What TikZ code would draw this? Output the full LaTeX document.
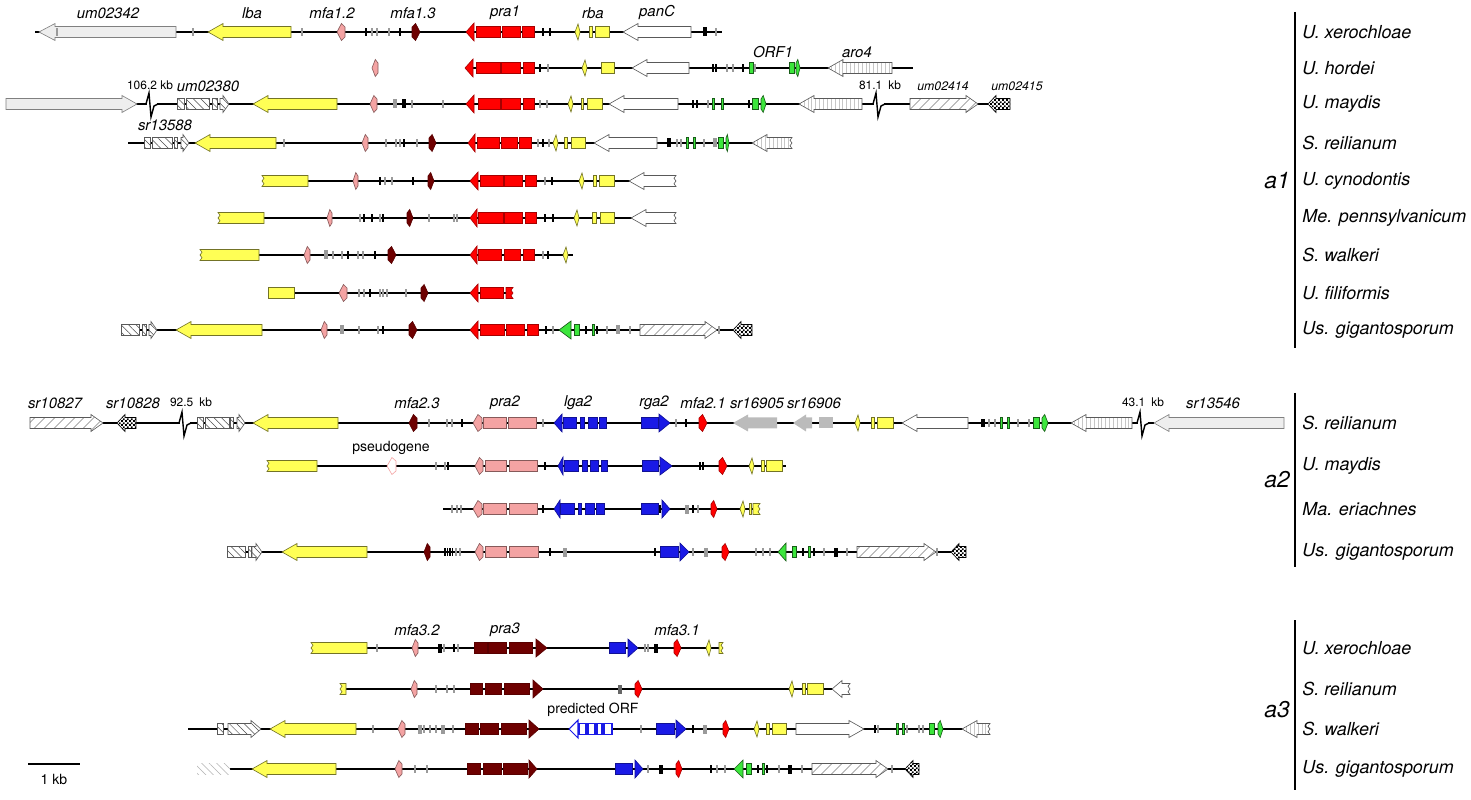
\documentclass[tikz,border=0pt]{standalone}
\usepackage{fontspec}
\setmainfont{TeX Gyre Heros}
\usepackage{xcolor}
\usepackage{tikz}
\usetikzlibrary{patterns,patterns.meta}

\definecolor{praRed}{HTML}{FF0000}
\definecolor{mfaDark}{HTML}{6E0000}
\definecolor{mfaPink}{HTML}{F4A3A3}
\definecolor{lbaYel}{HTML}{FFFF55}
\definecolor{rgaBlue}{HTML}{1A1AE6}
\definecolor{orfGreen}{HTML}{3CE63C}
\definecolor{paleGray}{HTML}{EEEEEE}
\definecolor{midGray}{HTML}{BBBBBB}
\definecolor{tickGray}{HTML}{9A9A9A}

% small checker for um02415-like genes
\pgfdeclarepatternformonly{finecheck}{\pgfpointorigin}{\pgfqpoint{2.4pt}{2.4pt}}{\pgfqpoint{2.4pt}{2.4pt}}{%
  \pgfpathrectangle{\pgfpointorigin}{\pgfqpoint{1.2pt}{1.2pt}}%
  \pgfpathrectangle{\pgfqpoint{1.2pt}{1.2pt}}{\pgfqpoint{1.2pt}{1.2pt}}%
  \pgfusepath{fill}}

\tikzset{
  track/.style={line width=0.8pt,black},
  gene/.style={line width=0.35pt},
  redg/.style={gene,fill=praRed,draw=praRed!65!black},
  darkg/.style={gene,fill=mfaDark,draw=mfaDark!80!black},
  pinkg/.style={gene,fill=mfaPink,draw=mfaPink!55!black},
  yelg/.style={gene,fill=lbaYel,draw=lbaYel!45!black},
  blueg/.style={gene,fill=rgaBlue,draw=rgaBlue!65!black},
  greeng/.style={gene,fill=orfGreen,draw=orfGreen!40!black},
  paleg/.style={gene,fill=paleGray,draw=gray},
  whiteg/.style={gene,fill=white,draw=gray!70!black},
  grayg/.style={fill=midGray,draw=none},
  pseudog/.style={gene,fill=white,draw=mfaPink},
  openg/.style={gene,fill=white,draw=rgaBlue,line width=0.6pt},
  hatchf/.style={gene,draw=gray!70!black,preaction={fill=white},
    pattern={Lines[angle=45,distance=4pt,line width=0.3pt]},pattern color=gray!60!black},
  hatchb/.style={gene,draw=gray!70!black,preaction={fill=white},
    pattern={Lines[angle=-45,distance=3pt,line width=0.3pt]},pattern color=gray!60!black},
  hatchfade/.style={preaction={fill=white},
    pattern={Lines[angle=-45,distance=3pt,line width=0.3pt]},pattern color=gray!60},
  stripeg/.style={gene,draw=gray!70!black,preaction={fill=white},
    pattern={Lines[angle=90,distance=2.2pt,line width=0.25pt]},pattern color=gray!45},
  checkg/.style={gene,draw=black,preaction={fill=white},pattern=finecheck,pattern color=black},
  glab/.style={font=\fontsize{8.5}{9}\selectfont\itshape,inner sep=1pt},
  smlab/.style={font=\fontsize{7}{8}\selectfont\itshape,inner sep=1pt},
  kblab/.style={font=\fontsize{6.8}{7}\selectfont,inner sep=1pt},
  nlab/.style={font=\fontsize{8}{9}\selectfont,inner sep=1pt},
  sp/.style={font=\fontsize{10.2}{12}\selectfont\itshape,anchor=west,inner sep=0pt},
  grp/.style={font=\fontsize{13}{14}\selectfont\itshape,inner sep=0pt},
  grpbar/.style={line width=1.2pt}
}

% gene shapes, all in pixel units
\newcommand{\geneL}[5][whiteg]{\filldraw[#1] (#2,#4) -- ({#2+#5},{#4-8.5}) -- ({#2+#5},{#4-5.5}) -- (#3,{#4-5.5}) -- (#3,{#4+5.5}) -- ({#2+#5},{#4+5.5}) -- ({#2+#5},{#4+8.5}) -- cycle;}
\newcommand{\geneR}[5][whiteg]{\filldraw[#1] (#3,#4) -- ({#3-#5},{#4-8.5}) -- ({#3-#5},{#4-5.5}) -- (#2,{#4-5.5}) -- (#2,{#4+5.5}) -- ({#3-#5},{#4+5.5}) -- ({#3-#5},{#4+8.5}) -- cycle;}
\newcommand{\geneLj}[5][whiteg]{\filldraw[#1] (#2,#4) -- ({#2+#5},{#4-8.5}) -- ({#2+#5},{#4-5.5}) -- (#3,{#4-5.5}) -- ({#3-2},{#4-2.75}) -- (#3,#4) -- ({#3-2},{#4+2.75}) -- (#3,{#4+5.5}) -- ({#2+#5},{#4+5.5}) -- ({#2+#5},{#4+8.5}) -- cycle;}
\newcommand{\gbox}[4][yelg]{\filldraw[#1] (#2,{#4-5.5}) rectangle (#3,{#4+5.5});}
\newcommand{\jboxL}[4][yelg]{\filldraw[#1] (#3,{#4-5.5}) -- (#2,{#4-5.5}) -- ({#2+2},{#4-2.75}) -- (#2,#4) -- ({#2+2},{#4+2.75}) -- (#2,{#4+5.5}) -- (#3,{#4+5.5}) -- cycle;}
\newcommand{\jboxR}[4][yelg]{\filldraw[#1] (#2,{#4-5.5}) -- (#3,{#4-5.5}) -- ({#3-2},{#4-2.75}) -- (#3,#4) -- ({#3-2},{#4+2.75}) -- (#3,{#4+5.5}) -- (#2,{#4+5.5}) -- cycle;}
\newcommand{\headL}[4][redg]{\filldraw[#1] (#2,#4) -- (#3,{#4-9}) -- (#3,{#4+9}) -- cycle;}
\newcommand{\headR}[4][blueg]{\filldraw[#1] (#3,#4) -- (#2,{#4-9}) -- (#2,{#4+9}) -- cycle;}
\newcommand{\kiteL}[4][pinkg]{\filldraw[#1] (#2,#4) -- ({#2+0.55*(#3-#2)},{#4-8.5}) -- (#3,{#4-5}) -- (#3,{#4+5}) -- ({#2+0.55*(#3-#2)},{#4+8.5}) -- cycle;}
\newcommand{\kiteR}[4][darkg]{\filldraw[#1] (#3,#4) -- ({#3-0.55*(#3-#2)},{#4-8.5}) -- (#2,{#4-5}) -- (#2,{#4+5}) -- ({#3-0.55*(#3-#2)},{#4+8.5}) -- cycle;}
\newcommand{\diamY}[2]{\filldraw[yelg] ({#1-3},#2) -- (#1,{#2-8}) -- ({#1+2},#2) -- (#1,{#2+8}) -- cycle;}
\newcommand{\tks}[3][tickGray]{\foreach \x in {#3}{\fill[#1] ({\x-0.9},{#2-4}) rectangle ({\x+0.9},{#2+4});}}
\newcommand{\tkw}[3][tickGray]{\foreach \x in {#3}{\fill[#1] ({\x-1.8},{#2-4.5}) rectangle ({\x+1.8},{#2+4.5});}}
\newcommand{\gbreak}[2]{\fill[white] ({#1-3},{#2-2}) rectangle ({#1+7},{#2+2});
  \draw[track,line join=miter] ({#1-4},#2) -- ({#1-1},{#2-11}) -- ({#1+1},{#2+13}) -- ({#1+4},{#2+2}) -- ({#1+8},#2);}

\begin{document}
\begin{tikzpicture}[x=0.02cm,y=-0.02cm]
  \useasboundingbox (0,0) rectangle (1471,800);

  %%%%%%%%%% a1 %%%%%%%%%%
  % U. xerochloae
  \draw[track] (35,32) -- (722,32);
  \geneL[paleg]{39}{176}{32}{16}
  \tks{32}{57,193,302,372,377,389,716}
  \tks[black]{32}{366,400,543,550}
  \geneL[yelg]{208}{291}{32}{15}
  \kiteL{337}{345}{32}
  \kiteR{412}{420}{32}
  \headL{466}{474}{32}
  \gbox[redg]{476}{500}{32} \gbox[redg]{502}{520}{32} \gbox[redg]{522}{534}{32}
  \diamY{578}{32}
  \gbox{589}{592}{32} \gbox{595}{609}{32}
  \geneL{623}{691}{32}{15}
  \tkw[black]{32}{705}
  \node[glab] (lUm02342) at (108,13) {um02342};
  \node[glab] (lLba) at (252,13) {lba};
  \node[glab] (lMfa12) at (332,13) {mfa1.2};
  \node[glab] (lMfa13) at (413,13) {mfa1.3};
  \node[glab] (lPra1) at (505,13) {pra1};
  \node[glab] (lRba) at (593,13) {rba};
  \node[glab] (lPanC) at (657,13) {panC};

  % U. hordei
  \kiteL{372}{378}{68}
  \draw[track] (466,68) -- (913,68);
  \headL{465}{473}{68}
  \gbox[redg]{476}{500}{68} \gbox[redg]{501}{520}{68} \gbox[redg]{523}{534}{68}
  \tks[black]{68}{540,713,716,743}
  \tks{68}{548,727,733,755}
  \diamY{585}{68}
  \gbox{601}{614}{68}
  \geneL{632}{689}{68}{15}
  \gbox[greeng]{749}{753}{68} \gbox[greeng]{789}{794}{68}
  \kiteR[greeng]{796}{800}{68}
  \geneL[stripeg]{828}{892}{68}{15}
  \node[glab] (lOrf1) at (773,52) {ORF1};
  \node[glab] (lAro4) at (857,52) {aro4};

  % U. maydis
  \draw[track] (130,104) -- (988,104);
  \geneR[paleg]{6}{137}{104}{15}
  \gbreak{150}{104}
  \gbox[hatchb]{177}{184}{104} \gbox[hatchb]{186}{209}{104} \gbox[hatchb]{212}{217}{104}
  \geneR[hatchb]{220}{229}{104}{6}
  \geneL[yelg]{253}{337}{104}{15}
  \kiteL{370}{377}{104}
  \tkw{104}{395} \tkw[black]{104}{404}
  \tks{104}{412,443,540,547,708}
  \headL{466}{474}{104}
  \gbox[redg]{478}{500}{104} \gbox[redg]{501}{520}{104} \gbox[redg]{523}{534}{104}
  \diamY{571}{104}
  \gbox{581}{583}{104} \gbox{587}{602}{104}
  \geneL{609}{678}{104}{15}
  \tks[black]{104}{693,697,749}
  \gbox[greeng]{712}{714}{104} \gbox[greeng]{721}{723}{104}
  \gbox[greeng]{752}{758}{104}
  \kiteR[greeng]{761}{766}{104}
  \geneL[stripeg]{799}{862}{104}{15}
  \gbreak{877}{104}
  \geneR[hatchf]{910}{978}{104}{12}
  \geneL[checkg]{988}{1010}{104}{8}
  \node[kblab] (lKb1062) at (150,85) {106.2 kb};
  \node[glab] (lUm02380) at (208,86) {um02380};
  \node[kblab] (lKb811) at (880,85) {81.1\enspace kb};
  \node[smlab] (lUm02414) at (943,86) {um02414};
  \node[smlab] (lUm02415) at (1017,86) {um02415};

  % S. reilianum
  \draw[track] (128,143) -- (792,143);
  \gbox[hatchb]{144}{150}{143} \gbox[hatchb]{152}{172}{143} \gbox[hatchb]{174}{177}{143}
  \geneR[hatchb]{181}{189}{143}{6}
  \geneL[yelg]{195}{276}{143}{15}
  \tks{143}{284,386,396,400,417,538,549,677,681,704}
  \tks[black]{143}{404,543}
  \kiteL{362}{368}{143}
  \kiteR{429}{436}{143}
  \headL{468}{475}{143}
  \gbox[redg]{477}{499}{143} \gbox[redg]{501}{517}{143} \gbox[redg]{519}{531}{143}
  \diamY{556}{143}
  \gbox{564}{567}{143} \gbox{571}{585}{143}
  \geneL{594}{657}{143}{15}
  \tkw[black]{143}{669} \tkw{143}{715}
  \gbox[greeng]{686}{688}{143} \gbox[greeng]{693}{695}{143}
  \gbox[greeng]{718}{723}{143}
  \kiteR[greeng]{726}{729}{143}
  \geneLj[stripeg]{752}{792}{143}{15}
  \node[glab] (lSr13588) at (165,125) {sr13588};

  % U. cynodontis
  \draw[track] (262,181) -- (676,181);
  \jboxL{262}{308}{181}
  \kiteL{353}{358}{181}
  \tks[black]{181}{380,413,552}
  \tks{181}{385,392,545}
  \kiteR{428}{434}{181}
  \headL{470}{478}{181}
  \gbox[redg]{480}{503}{181} \gbox[redg]{504}{522}{181} \gbox[redg]{525}{536}{181}
  \diamY{582}{181}
  \gbox{593}{596}{181} \gbox{599}{614}{181}
  \geneLj{629}{676}{181}{15}

  % Me. pennsylvanicum
  \draw[track] (218,218) -- (676,218);
  \jboxL{218}{264}{218}
  \kiteL{327}{332}{218}
  \tks{218}{360,380,429,454,457}
  \tks[black]{218}{364,372,383,545,553}
  \kiteR{407}{413}{218}
  \headL{470}{477}{218}
  \gbox[redg]{478}{503}{218} \gbox[redg]{504}{522}{218} \gbox[redg]{525}{536}{218}
  \diamY{577}{218}
  \gbox{592}{596}{218} \gbox{600}{614}{218}
  \geneLj{631}{676}{218}{15}

  % S. walkeri
  \draw[track] (200,255) -- (573,255);
  \jboxL{200}{259}{255}
  \kiteL{304}{310}{255}
  \tkw{255}{326}
  \tks{255}{333,342,358,363,543}
  \tks[black]{255}{348,375,548}
  \kiteR{388}{396}{255}
  \headL{470}{477}{255}
  \gbox[redg]{478}{501}{255} \gbox[redg]{504}{520}{255} \gbox[redg]{523}{534}{255}
  \diamY{566}{255}

  % U. filiformis
  \draw[track] (294,293) -- (506,293);
  \gbox{268}{294}{293}
  \kiteL{339}{347}{293}
  \tks{293}{359,364,380,383,387,406}
  \tks[black]{293}{370}
  \kiteR{421}{428}{293}
  \headL{470}{478}{293}
  \gbox[redg]{480}{503}{293}
  \jboxR[redg]{506}{513}{293}

  % Us. gigantosporum
  \draw[track] (121,330) -- (752,330);
  \gbox[hatchb]{121}{139}{330} \gbox[hatchb]{142}{146}{330}
  \geneR[hatchb]{149}{157}{330}{6}
  \geneL[yelg]{176}{262}{330}{15}
  \kiteL{321}{327}{330}
  \tkw{330}{342,618}
  \tks{330}{359,378,553,607,630,719}
  \tks[black]{330}{383,546,586,597}
  \kiteR{409}{417}{330}
  \headL{470}{478}{330}
  \gbox[redg]{480}{504}{330} \gbox[redg]{506}{524}{330} \gbox[redg]{527}{538}{330}
  \headL[greeng]{559}{571}{330}
  \gbox[greeng]{574}{579}{330} \gbox[greeng]{592}{594}{330}
  \geneR[hatchf]{640}{717}{330}{12}
  \geneL[checkg]{733}{752}{330}{8}

  %%%%%%%%%% a2 %%%%%%%%%%
  % S. reilianum
  \draw[track] (103,423) -- (1154,423);
  \geneR[hatchf]{30}{103}{423}{12}
  \geneL[checkg]{117}{136}{423}{8}
  \gbreak{183}{423}
  \gbox[hatchb]{197}{203}{423} \gbox[hatchb]{205}{229}{423} \gbox[hatchb]{230}{233}{423}
  \geneR[hatchb]{237}{245}{423}{6}
  \geneL[yelg]{253}{338}{423}{15}
  \kiteL[darkg]{409}{417}{423}
  \tks{423}{429,447,452,543,676,989,995,1018,1029}
  \tks[black]{423}{462,686,982,984}
  \kiteL{473}{482}{423}
  \gbox[pinkg]{483}{506}{423} \gbox[pinkg]{508}{536}{423}
  \headL[blueg]{554}{562}{423}
  \gbox[blueg]{563}{576}{423} \gbox[blueg]{580}{584}{423} \gbox[blueg]{588}{597}{423} \gbox[blueg]{599}{606}{423}
  \gbox[blueg]{641}{658}{423}
  \headR{659}{670}{423}
  \kiteR[redg]{699}{707}{423}
  \geneL[grayg]{733}{777}{423}{15}
  \geneL[grayg]{793}{812}{423}{13}
  \gbox[grayg]{819}{833}{423}
  \diamY{858}{423}
  \gbox{871}{874}{423} \gbox{877}{893}{423}
  \geneL{902}{968}{423}{15}
  \gbox[greeng]{1000}{1002}{423} \gbox[greeng]{1007}{1009}{423}
  \gbox[greeng]{1033}{1039}{423}
  \kiteR[greeng]{1042}{1048}{423}
  \geneL[stripeg]{1071}{1132}{423}{15}
  \gbreak{1141}{423}
  \geneL[paleg]{1154}{1284}{423}{15}
  \node[glab] (lSr10827) at (55,403) {sr10827};
  \node[glab] (lSr10828) at (133,403) {sr10828};
  \node[kblab] (lKb925) at (191,402) {92.5\enspace kb};
  \node[glab] (lMfa23) at (417,403) {mfa2.3};
  \node[glab] (lPra2) at (505,403) {pra2};
  \node[glab] (lLga2) at (578,403) {lga2};
  \node[glab] (lRga2) at (654,403) {rga2};
  \node[glab] (lMfa21) at (703,403) {mfa2.1};
  \node[glab] (lSr16905) at (757,403) {sr16905};
  \node[glab] (lSr16906) at (814,403) {sr16906};
  \node[kblab] (lKb431) at (1143,402) {43.1\enspace kb};
  \node[glab] (lSr13546) at (1213,403) {sr13546};

  % U. maydis
  \draw[track] (317,466) -- (786,466);
  \jboxL{267}{317}{466}
  \kiteL[pseudog]{387}{396}{466}
  \tks{466}{436,445}
  \tks[black]{466}{448,545,700,703}
  \kiteL{475}{483}{466}
  \gbox[pinkg]{485}{506}{466} \gbox[pinkg]{509}{537}{466}
  \headL[blueg]{558}{563}{466}
  \gbox[blueg]{564}{578}{466} \gbox[blueg]{582}{587}{466} \gbox[blueg]{590}{598}{466} \gbox[blueg]{601}{607}{466}
  \gbox[blueg]{642}{658}{466}
  \headR{660}{672}{466}
  \kiteR[redg]{719}{727}{466}
  \diamY{752}{466}
  \gbox{761}{764}{466} \gbox{766}{782}{466}
  \node[nlab] (lPseudo) at (391,448) {pseudogene};

  % Ma. eriachnes
  \draw[track] (443,509) -- (760,509);
  \tks{509}{452,457,461,698}
  \kiteL{473}{482}{509}
  \gbox[pinkg]{483}{506}{509} \gbox[pinkg]{509}{537}{509}
  \tks[black]{509}{543,660,693}
  \headL[blueg]{554}{560}{509}
  \gbox[blueg]{560}{574}{509} \gbox[blueg]{578}{581}{509} \gbox[blueg]{585}{594}{509} \gbox[blueg]{596}{604}{509}
  \gbox[blueg]{641}{658}{509}
  \headR{662}{670}{509}
  \tkw{509}{687}
  \kiteR[redg]{711}{717}{509}
  \diamY{743}{509}
  \gbox{749}{751}{509}
  \jboxR{753}{760}{509}

  % Us. gigantosporum
  \draw[track] (227,552) -- (966,552);
  \gbox[hatchb]{227}{245}{552} \gbox[hatchb]{248}{251}{552}
  \geneR[hatchb]{252}{262}{552}{6}
  \geneL[yelg]{282}{367}{552}{15}
  \kiteL[darkg]{424}{430}{552}
  \tks[black]{552}{445,447.5,450,452.5,550,655,803,814}
  \tks{552}{456,460,693,756,763,770,824,847,937}
  \kiteL{475}{483}{552}
  \gbox[pinkg]{485}{506}{552} \gbox[pinkg]{509}{538}{552}
  \tkw{552}{565,706}
  \gbox[blueg]{660}{678}{552}
  \headR{680}{689}{552}
  \kiteR[redg]{722}{729}{552}
  \headL[greeng]{778}{786}{552}
  \gbox[greeng]{792}{796}{552} \gbox[greeng]{808}{810}{552}
  \tkw[black]{552}{836}
  \geneR[hatchf]{857}{936}{552}{12}
  \geneL[checkg]{951}{966}{552}{8}

  %%%%%%%%%% a3 %%%%%%%%%%
  % U. xerochloae
  \draw[track] (311,648) -- (723,648);
  \jboxL{311}{367}{648}
  \tks{648}{377,444,458,645,648}
  \kiteL{412}{418}{648}
  \tkw[black]{648}{440,656}
  \tks[black]{648}{454}
  \gbox[darkg]{474}{487}{648} \gbox[darkg]{488}{506}{648} \gbox[darkg]{509}{532}{648}
  \headR[darkg]{536}{547}{648}
  \gbox[blueg]{609}{625}{648}
  \headR{628}{638}{648}
  \kiteR[redg]{674}{681}{648}
  \diamY{709}{648}
  \jboxR{719}{723}{648}
  \node[glab] (lMfa32) at (417,630) {mfa3.2};
  \node[glab] (lPra3) at (505,630) {pra3};
  \node[glab] (lMfa31) at (677,630) {mfa3.1};

  % S. reilianum
  \draw[track] (346,689) -- (832,689);
  \jboxL{340}{346}{689}
  \kiteL{411}{417}{689}
  \tks{689}{436,447,454}
  \gbox[darkg]{470}{482}{689} \gbox[darkg]{485}{501}{689} \gbox[darkg]{504}{529}{689}
  \headR[darkg]{533}{543}{689}
  \tkw[black!60]{689}{620}
  \kiteR[redg]{635}{642}{689}
  \diamY{792}{689}
  \gbox{802}{805}{689} \gbox{807}{823}{689}
  \geneLj{832}{850}{689}{10}

  % S. walkeri
  \draw[track] (188,729) -- (990,729);
  \gbox[hatchb]{217}{223}{729}
  \geneR[hatchb]{228}{261}{729}{10}
  \geneL[yelg]{270}{356}{729}{15}
  \tks{729}{373,424,430,436,453,641,878,907,919,923}
  \tkw{729}{420,443,705}
  \kiteL{398}{405}{729}
  \gbox[darkg]{465}{478}{729} \gbox[darkg]{480}{498}{729} \gbox[darkg]{501}{526}{729}
  \headR[darkg]{529}{539}{729}
  \headL[openg]{569}{578}{729}
  \gbox[openg]{579}{586}{729} \gbox[openg]{588}{595}{729} \gbox[openg]{597}{602}{729} \gbox[openg]{604}{612}{729}
  \gbox[blueg]{656}{674}{729}
  \headR{676}{686}{729}
  \tks[black]{729}{693,875}
  \kiteR[redg]{723}{729}{729}
  \diamY{757}{729}
  \gbox{766}{769}{729} \gbox{772}{786}{729}
  \geneR{796}{864}{729}{15}
  \gbox[greeng]{896}{898}{729} \gbox[greeng]{902}{904}{729}
  \gbox[greeng]{929}{934}{729}
  \kiteR[greeng]{938}{943}{729}
  \geneLj[stripeg]{962}{990}{729}{15}
  \node[nlab] (lPredOrf) at (593,710) {predicted ORF};

  % Us. gigantosporum
  \draw[track] (230,769) -- (919,769);
  \fill[hatchfade] (197,763.5) rectangle (230,774.5);
  \geneL[yelg]{252}{336}{769}{15}
  \kiteL{395}{402}{769}
  \tks{769}{415,427,648,717,725,779,802,892}
  \gbox[darkg]{467}{480}{769} \gbox[darkg]{483}{501}{769} \gbox[darkg]{503}{527}{769}
  \headR[darkg]{529}{537}{769}
  \gbox[blueg]{615}{632}{769}
  \headR{635}{643}{769}
  \tkw[black]{769}{661,790}
  \kiteR[redg]{676}{682}{769}
  \tks[black]{769}{711,758,767}
  \headL[greeng]{734}{743}{769}
  \gbox[greeng]{746}{751}{769} \gbox[greeng]{762}{764}{769}
  \geneR[hatchf]{812}{888}{769}{12}
  \geneL[checkg]{905}{919}{769}{8}

  % scale bar
  \draw[line width=1pt] (28,764) -- (80,764);
  \node[nlab] (lScale) at (54,779) {1 kb};

  % species and groups
  \foreach \y/\t [count=\i] in {32/U. xerochloae, 68/U. hordei, 104/U. maydis,
      143/S. reilianum, 181/U. cynodontis, 218/Me. pennsylvanicum,
      255/S. walkeri, 293/U. filiformis, 330/Us. gigantosporum}
    \node[sp] (spA\i) at (1302,\y) {\t};
  \foreach \y/\t [count=\i] in {423/S. reilianum, 466/U. maydis,
      509/Ma. eriachnes, 552/Us. gigantosporum}
    \node[sp] (spB\i) at (1302,\y) {\t};
  \foreach \y/\t [count=\i] in {648/U. xerochloae, 689/S. reilianum,
      729/S. walkeri, 769/Us. gigantosporum}
    \node[sp] (spC\i) at (1302,\y) {\t};
  \draw[grpbar] (1295,12) -- (1295,348);
  \draw[grpbar] (1295,393) -- (1295,567);
  \draw[grpbar] (1295,620) -- (1295,790);
  \node[grp] (grpA) at (1277,181) {a1};
  \node[grp] (grpB) at (1277,480) {a2};
  \node[grp] (grpC) at (1277,710) {a3};
\end{tikzpicture}
\end{document}
